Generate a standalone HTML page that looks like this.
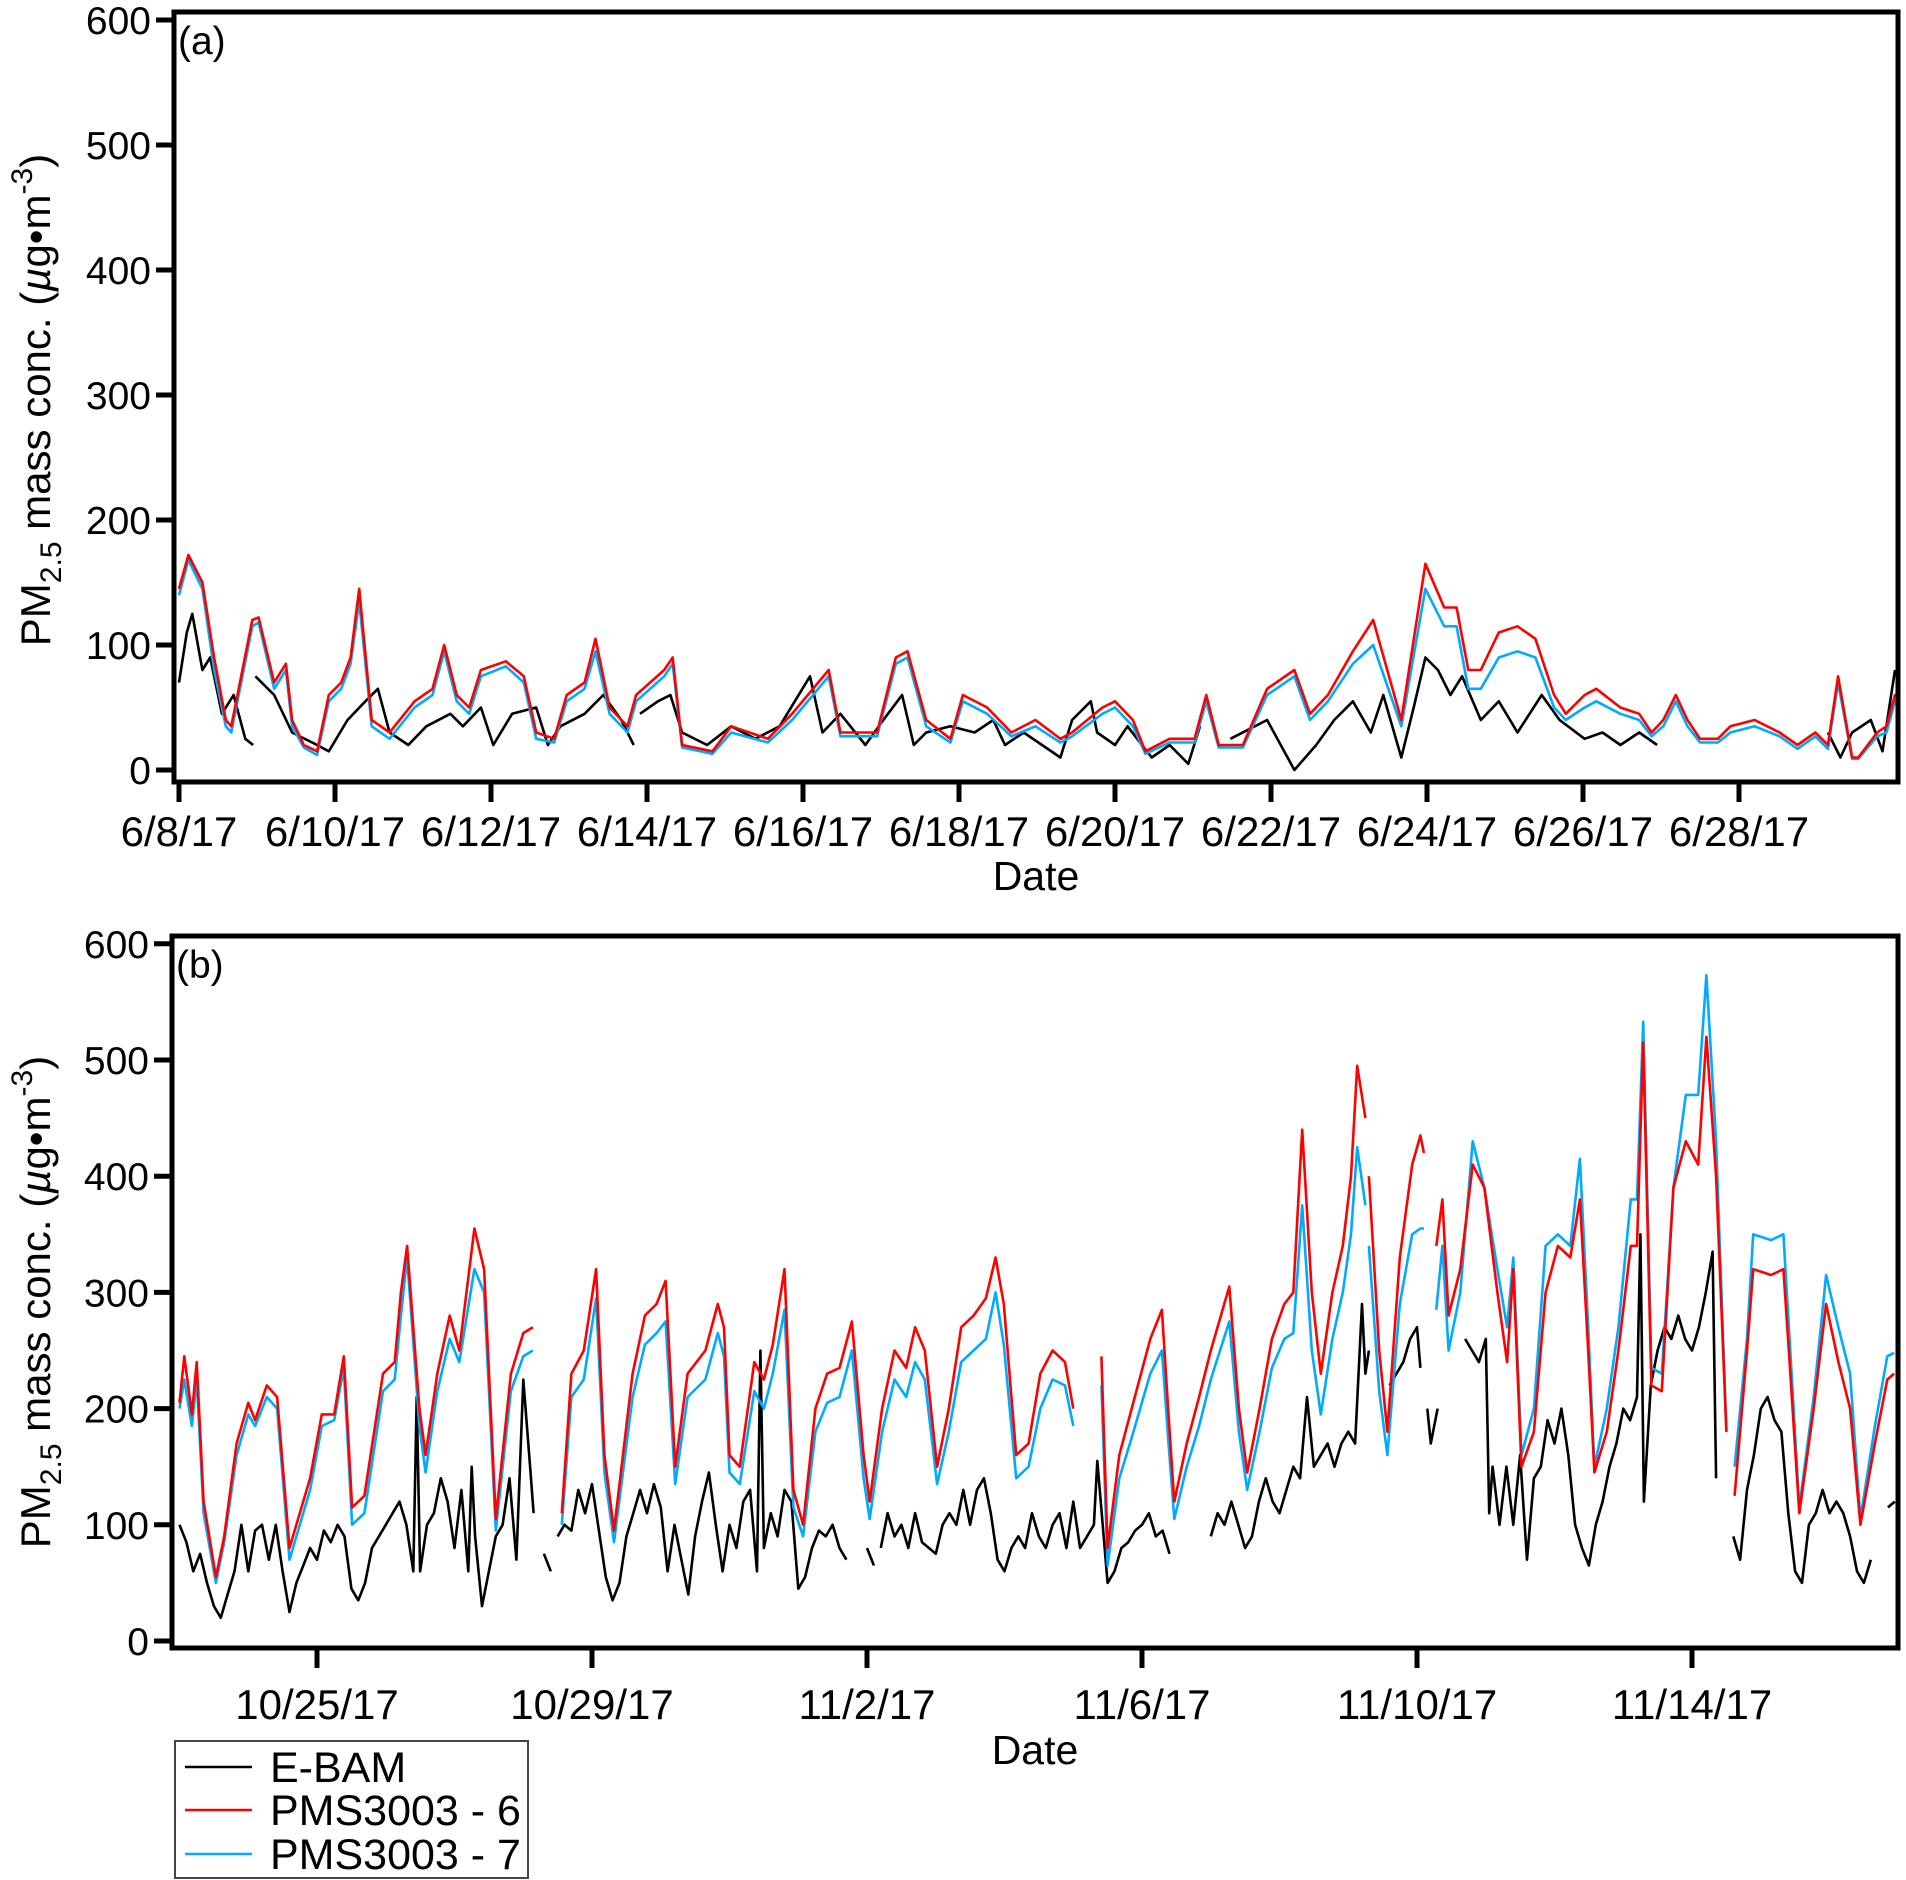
<!DOCTYPE html>
<html><head><meta charset="utf-8"><style>
html,body{margin:0;padding:0;background:#fff}
svg{display:block;font-family:"Liberation Sans",Arial,sans-serif}
</style></head><body>
<svg id="chart" width="1906" height="1880" viewBox="0 0 1906 1880" xmlns="http://www.w3.org/2000/svg">
<defs>
<clipPath id="clipA"><rect x="176" y="14" width="1720" height="766"/></clipPath>
<clipPath id="clipB"><rect x="174" y="938" width="1722" height="708"/></clipPath>
</defs>
<g id="panelA"></g>
<g id="panelB"></g>
<g>
<rect x="175" y="1741" width="353" height="137" fill="#fff" stroke="#444" stroke-width="2"/>
<g><line x1="185" y1="1767" x2="252" y2="1767" stroke="#000" stroke-width="2.5"/><text x="270" y="1782" font-size="43">E-BAM</text></g>
<g><line x1="185" y1="1810" x2="252" y2="1810" stroke="#ff0000" stroke-width="2.5"/><text x="270" y="1825" font-size="43">PMS3003 - 6</text></g>
<g><line x1="185" y1="1854" x2="252" y2="1854" stroke="#00aaff" stroke-width="2.5"/><text x="270" y="1869" font-size="43">PMS3003 - 7</text></g>
</g>
</svg>
<script>
// ---- Panel (a) data: days since 6/8/17 ----
const aTickLabels = ["6/8/17","6/10/17","6/12/17","6/14/17","6/16/17","6/18/17","6/20/17","6/22/17","6/24/17","6/26/17","6/28/17"];
const aTickDays = [0,2,4,6,8,10,12,14,16,18,20];
const yTickValues = [0,100,200,300,400,500,600];
const aPmsTimes = [0,.12,.3,.45,.6,.67,.94,1.02,1.22,1.37,1.45,1.6,1.77,1.92,2.08,2.2,2.31,2.47,2.7,3.02,3.25,3.4,3.56,3.72,3.87,4.19,4.42,4.58,4.81,4.97,5.2,5.34,5.52,5.75,5.86,6.22,6.33,6.45,6.84,7.08,7.55,7.86,8.33,8.48,8.95,9.19,9.34,9.58,9.89,10.05,10.36,10.67,10.98,11.3,11.45,11.84,12.0,12.23,12.39,12.7,13.02,13.17,13.33,13.64,13.95,14.3,14.5,14.73,15.05,15.31,15.67,15.98,16.22,16.38,16.53,16.69,16.92,17.16,17.39,17.63,17.78,18.02,18.17,18.48,18.72,18.88,19.03,19.19,19.34,19.5,19.73,19.89,20.2,20.52,20.75,20.98,21.14,21.27,21.45,21.53,21.77,21.89,22.0,22.16];
const aPms6 = [145,172,150,90,40,35,120,122,70,85,40,20,15,60,70,90,145,40,30,55,65,100,60,50,80,87,75,30,25,60,70,105,50,35,60,80,90,20,15,35,25,45,80,30,30,90,95,40,25,60,50,30,40,25,30,50,55,40,15,25,25,60,20,20,65,80,45,60,95,120,40,165,130,130,80,80,110,115,105,60,45,60,65,50,45,30,40,60,40,25,25,35,40,30,20,30,20,75,10,10,30,35,60,60];
const aPms7 = [140,168,145,80,35,30,115,118,65,80,35,18,12,55,65,85,135,35,25,50,60,95,55,45,75,83,70,25,22,55,65,95,45,30,55,75,85,18,13,30,22,40,75,27,27,85,90,35,22,55,45,27,35,22,27,45,50,35,13,22,22,55,18,18,60,75,40,55,85,100,35,145,115,115,65,65,90,95,90,50,40,50,55,45,40,27,35,55,35,22,22,30,35,27,17,27,17,70,9,9,27,30,55,55];
const aEbamTimes = [0,.1,.17,.3,.4,.55,.7,.85,.95,null,.98,1.22,1.45,1.77,1.92,2.16,2.39,2.55,2.7,2.94,3.17,3.48,3.64,3.87,4.03,4.27,4.58,4.73,4.89,5.2,5.44,5.67,5.83,null,5.91,6.14,6.3,6.45,6.77,7.08,7.39,7.7,8.09,8.25,8.48,8.8,9.03,9.27,9.42,9.58,9.89,10.2,10.44,10.59,10.83,11.3,11.45,11.69,11.77,12.0,12.16,12.47,12.7,12.94,13.09,null,13.48,13.95,14.3,14.58,14.81,15.05,15.28,15.44,15.67,15.83,15.98,16.14,16.3,16.45,16.69,16.92,17.16,17.47,17.7,18.02,18.25,18.48,18.72,18.95,null,21.14,21.3,21.45,21.69,21.84,22.0];
const aEbamValues = [70,110,125,80,90,45,60,25,20,null,75,60,30,20,15,40,55,65,30,20,35,45,35,50,20,45,50,20,35,45,60,40,20,null,45,55,60,30,20,35,25,35,75,30,45,20,40,60,20,30,35,30,40,20,30,10,40,55,30,20,35,10,20,5,35,null,25,40,0,20,40,55,30,60,10,50,90,80,60,75,40,55,30,60,40,25,30,20,30,20,null,30,10,30,40,15,80];

// ---- Panel (b) data: days since 10/25/17 ----
const bTickLabels = ["10/25/17","10/29/17","11/2/17","11/6/17","11/10/17","11/14/17"];
const bTickDays = [0,4,8,12,16,20];
const bPmsTimes = [-2.0,-1.93,-1.82,-1.75,-1.65,-1.47,-1.35,-1.17,-1.0,-.9,-.73,-.58,-.4,-.1,.07,.25,.39,.51,.69,.96,1.13,1.22,1.31,1.49,1.58,1.75,1.93,2.07,2.29,2.43,2.6,2.82,3.0,3.14,null,3.56,3.7,3.88,4.06,4.18,4.32,4.59,4.77,4.94,5.07,5.21,5.39,5.65,5.83,5.92,6.0,6.15,6.36,6.5,6.63,6.8,6.93,7.07,7.25,7.42,7.6,7.78,7.95,8.04,8.22,8.4,8.57,8.7,8.84,9.02,9.19,9.37,9.55,9.73,9.87,9.99,10.17,10.35,10.52,10.7,10.88,11.0,null,11.41,11.5,11.67,11.85,12.12,12.29,12.38,12.47,12.65,12.83,13.0,13.27,13.41,13.53,13.71,13.89,14.07,14.2,14.33,14.47,14.6,14.77,14.92,15.04,15.13,15.25,null,15.3,15.45,15.57,15.75,15.93,16.05,16.1,null,16.28,16.37,16.46,16.63,16.81,16.98,17.17,17.31,17.4,17.52,17.7,17.87,18.05,18.23,18.37,18.49,18.58,18.76,18.93,19.11,19.2,19.29,19.41,19.56,19.73,19.91,20.09,20.21,20.35,20.5,null,20.62,20.8,20.89,21.15,21.33,21.42,21.56,21.77,21.95,22.13,22.3,22.45,22.66,22.84,22.94];
const bPms6 = [205,245,195,240,120,55,90,170,205,190,220,210,80,140,195,195,245,115,125,230,240,300,340,200,160,230,280,250,355,320,105,230,265,270,null,110,230,250,320,160,95,230,280,290,310,150,230,250,290,270,160,150,240,225,255,320,130,100,200,230,235,275,160,120,200,250,235,270,250,150,200,270,280,295,330,290,160,170,230,250,240,200,null,245,80,160,200,260,285,200,120,170,210,250,305,200,145,200,260,290,300,440,300,230,300,340,400,495,450,null,400,250,180,330,410,435,420,null,340,380,280,320,410,390,300,240,320,150,180,300,340,330,380,250,145,180,250,340,340,515,220,215,390,430,410,520,400,180,null,125,250,320,315,320,240,110,200,290,240,200,100,170,225,230];
const bPms7 = [200,225,185,225,110,50,85,160,195,185,210,200,70,130,185,190,235,100,110,215,225,280,330,185,145,215,260,240,320,300,95,215,245,250,null,100,210,225,295,145,85,210,255,265,275,135,210,225,265,245,145,135,215,200,230,285,115,90,180,205,210,250,140,105,180,225,210,240,225,135,180,240,250,260,300,255,140,150,200,225,220,185,null,220,65,140,175,230,250,175,105,150,185,225,275,180,130,180,235,260,265,375,250,195,260,300,350,425,375,null,340,215,160,290,350,355,355,null,285,340,250,300,430,390,320,270,330,160,200,340,350,340,415,270,150,200,270,380,380,533,235,230,390,470,470,573,430,180,null,150,260,350,345,350,260,115,210,315,270,230,105,185,245,248];
const bEbamTimes = [-2.0,-1.9,-1.8,-1.7,-1.6,-1.5,-1.4,-1.3,-1.2,-1.1,-1.0,-.9,-.8,-.7,-.6,-.5,-.4,-.3,-.2,-.1,0,.1,.2,.3,.4,.5,.6,.7,.8,.9,1.0,1.1,1.2,1.3,1.4,1.45,1.5,1.6,1.7,1.8,1.9,2.0,2.1,2.2,2.25,2.3,2.4,2.5,2.6,2.7,2.8,2.9,3.0,3.1,3.15,null,3.3,3.4,null,3.5,3.6,3.7,3.8,3.9,4.0,4.1,4.2,4.3,4.4,4.5,4.6,4.7,4.8,4.9,5.0,5.1,5.2,5.3,5.4,5.5,5.6,5.7,5.8,5.9,6.0,6.1,6.2,6.3,6.4,6.45,6.5,6.6,6.7,6.8,6.9,7.0,7.1,7.2,7.3,7.4,7.5,7.6,7.7,null,8.0,8.1,null,8.2,8.3,8.4,8.5,8.6,8.7,8.8,8.9,9.0,9.1,9.2,9.3,9.4,9.5,9.6,9.7,9.8,9.9,10.0,10.1,10.2,10.3,10.4,10.5,10.6,10.7,10.8,10.9,11.0,11.1,11.2,11.3,11.35,11.5,11.6,11.7,11.8,11.9,12.0,12.1,12.2,12.3,12.4,null,13.0,13.1,13.2,13.3,13.4,13.5,13.6,13.7,13.8,13.9,14.0,14.1,14.2,14.3,14.4,14.5,14.6,14.7,14.8,14.9,15.0,15.1,15.2,15.25,15.3,null,15.6,15.7,15.8,15.9,16.0,16.05,null,16.15,16.2,16.3,null,16.7,16.8,16.9,17.0,17.05,17.1,17.2,17.3,17.4,17.5,17.6,17.7,17.8,17.9,18.0,18.1,18.2,18.3,18.4,18.5,18.6,18.7,18.8,18.9,19.0,19.1,19.2,19.25,19.3,19.4,19.5,19.6,19.7,19.8,19.9,20.0,20.1,20.2,20.3,20.35,null,20.6,20.7,20.8,20.9,21.0,21.1,21.2,21.3,21.4,21.5,21.6,21.7,21.8,21.9,22.0,22.1,22.2,22.3,22.4,22.5,22.6,null,22.85,22.95];
const bEbamValues = [100,85,60,75,50,30,20,40,60,100,60,95,100,70,100,60,25,50,65,80,70,95,85,100,90,45,35,50,80,90,100,110,120,100,60,210,60,100,110,140,120,80,130,60,150,90,30,60,90,100,140,70,225,150,110,null,75,60,null,90,100,95,130,110,135,95,55,35,50,90,110,130,110,135,115,60,100,70,40,90,120,145,100,60,100,80,120,130,60,250,80,110,90,130,120,45,55,80,95,90,100,80,70,null,80,65,null,80,110,90,100,80,110,85,80,75,100,110,100,130,100,130,140,110,70,60,80,90,80,110,90,80,100,110,80,120,80,90,100,155,50,60,80,85,95,100,110,90,95,75,null,90,110,100,120,100,80,90,120,140,120,110,130,150,140,210,150,160,170,150,170,180,170,290,230,250,null,220,230,240,260,270,235,null,200,170,200,null,260,250,240,260,110,150,100,150,100,160,70,140,150,190,170,200,160,100,80,65,100,120,150,170,200,190,210,350,120,220,250,270,260,280,260,250,270,300,335,140,null,90,70,130,160,200,210,190,180,110,60,50,100,110,130,110,120,110,90,60,50,70,null,115,120];

const NS = "http://www.w3.org/2000/svg";
function mk(tag, attrs, parent){
  const el = document.createElementNS(NS, tag);
  for (const k in attrs) el.setAttribute(k, attrs[k]);
  parent.appendChild(el);
  return el;
}
function pathFrom(times, vals, xf, yf){
  let d = "", pen = false;
  for (let i = 0; i < times.length; i++){
    if (times[i] === null || vals[i] === null){ pen = false; continue; }
    d += (pen ? "L" : "M") + xf(times[i]).toFixed(1) + "," + yf(vals[i]).toFixed(1);
    pen = true;
  }
  return d;
}
function buildPanel(g, cfg){
  const {L, T, R, B, x, y, clip, tickDays, tickLabels, labelY, titleY, tag, titleCY} = cfg;
  const series = mk("g", {"clip-path": "url(#" + clip + ")"}, g);
  
  
  cfg.lines.forEach(s => {
    const p = mk("path", {d: pathFrom(s.t, s.v, x, y), fill: "none", stroke: s.c, "stroke-width": 2.6, "stroke-linejoin": "round"}, series);
    
    
  });
  const frame = mk("rect", {x: L, y: T, width: R - L, height: B - T, fill: "none", stroke: "#000", "stroke-width": 5}, g);
  
  
  yTickValues.forEach(v => {
    const yy = y(v);
    const tk = mk("line", {x1: L - 18, y1: yy, x2: L, y2: yy, stroke: "#000", "stroke-width": 5}, g);
    
    
    const tl = mk("text", {x: L - 23, y: yy + 14, "font-size": 39, "text-anchor": "end"}, g);
    tl.textContent = v;
    
    
  });
  tickDays.forEach((d, i) => {
    const xx = x(d);
    const tk = mk("line", {x1: xx, y1: B, x2: xx, y2: B + 20, stroke: "#000", "stroke-width": 5}, g);
    
    
    const tl = mk("text", {x: xx, y: labelY, "font-size": 42, "text-anchor": "middle"}, g);
    tl.textContent = tickLabels[i];
    
    
  });
  const xt = mk("text", {x: (L + R) / 2, y: titleY, "font-size": 41, "text-anchor": "middle"}, g);
  xt.textContent = "Date";
  
  
  const pl = mk("text", {x: L + 4, y: T + 42, "font-size": 39}, g);
  pl.textContent = tag;
  
  
  const yt = mk("text", {x: 0, y: 0, "font-size": 42, "text-anchor": "middle", transform: "translate(50," + titleCY + ") rotate(-90)"}, g);
  
  
  yt.innerHTML = 'PM<tspan font-size="30" dy="11">2.5</tspan><tspan dy="-11"> mass conc. (</tspan><tspan font-style="italic">µ</tspan><tspan>g•m</tspan><tspan font-size="30" dy="-18">-3</tspan><tspan dy="18">)</tspan>';
}
const pA = document.getElementById("panelA");
buildPanel(pA, {L:174, T:12, R:1898, B:782, clip:"clipA",
  x: d => 179 + 78 * d, y: v => 770 - 1.25 * v,
  tickDays: aTickDays, tickLabels: aTickLabels, labelY: 846, titleY: 890, tag: "(a)", titleCY: 400,
  lines: [
    {t: aEbamTimes, v: aEbamValues, c: "#000", name: "ebam-line-a"},
    {t: aPmsTimes, v: aPms7, c: "#00aaff", name: "pms7-line-a"},
    {t: aPmsTimes, v: aPms6, c: "#ff0000", name: "pms6-line-a"}
  ]});
const pB = document.getElementById("panelB");
buildPanel(pB, {L:172, T:936, R:1898, B:1648, clip:"clipB",
  x: d => 317 + 68.75 * d, y: v => 1641 - 1.162 * v,
  tickDays: bTickDays, tickLabels: bTickLabels, labelY: 1719, titleY: 1764, tag: "(b)", titleCY: 1302,
  lines: [
    {t: bEbamTimes, v: bEbamValues, c: "#000", name: "ebam-line-b"},
    {t: bPmsTimes, v: bPms7, c: "#00aaff", name: "pms7-line-b"},
    {t: bPmsTimes, v: bPms6, c: "#ff0000", name: "pms6-line-b"}
  ]});
</script>
</body></html>
